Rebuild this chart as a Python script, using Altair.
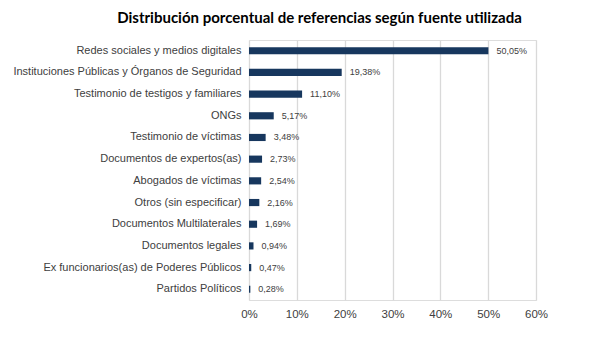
import altair as alt
import pandas as pd

categories = [
    "Redes sociales y medios digitales",
    "Instituciones Públicas y Órganos de Seguridad",
    "Testimonio de testigos y familiares",
    "ONGs",
    "Testimonio de víctimas",
    "Documentos de expertos(as)",
    "Abogados de víctimas",
    "Otros (sin especificar)",
    "Documentos Multilaterales",
    "Documentos legales",
    "Ex funcionarios(as) de Poderes Públicos",
    "Partidos Políticos",
]
values = [50.05, 19.38, 11.10, 5.17, 3.48, 2.73, 2.54, 2.16, 1.69, 0.94, 0.47, 0.28]
x_ticks = [0, 10, 20, 30, 40, 50, 60]

df = pd.DataFrame({
    "cat": categories,
    "val": values,
    "lab": [f"{v:.2f}".replace(".", ",") + "%" for v in values],
})

y_enc = alt.Y("cat:N", sort=categories, title=None,
              scale=alt.Scale(paddingInner=0.67, paddingOuter=0.33),
              axis=alt.Axis(domain=False, ticks=False, labelPadding=8,
                            labelFont="Liberation Sans", labelFontSize=11,
                            labelColor="#404040", labelLimit=300))
x_enc = alt.X("val:Q", title=None,
              scale=alt.Scale(domain=[0, 60]),
              axis=alt.Axis(values=x_ticks, labelExpr="datum.value + '%'",
                            domain=False, ticks=False, grid=True, labelFlush=False,
                            gridColor="#d9d9d9", gridWidth=1.3,
                            labelFont="Liberation Sans", labelFontSize=11.5,
                            labelColor="#404040", labelPadding=8))

bars = alt.Chart(df).mark_bar(color="#17375e").encode(y=y_enc, x=x_enc)
text = alt.Chart(df).mark_text(align="left", baseline="middle", dx=8,
                               font="Liberation Sans", fontSize=9,
                               color="#404040").encode(
    y=alt.Y("cat:N", sort=categories), x="val:Q", text="lab:N")

chart = (bars + text).properties(
    width=287, height=260,
    title=alt.TitleParams("Distribución porcentual de referencias según fuente utilizada",
                          font="Lato", fontSize=15, fontWeight="bold",
                          color="#000000", anchor="middle", dx=-73, offset=14),
    autosize=alt.AutoSizeParams(type="none"),
    padding={"left": 249, "top": 40, "right": 53, "bottom": 47},
).configure_view(stroke=None).configure(background="white")

chart.save("out.html", embed_options={"renderer": "svg", "actions": False})
